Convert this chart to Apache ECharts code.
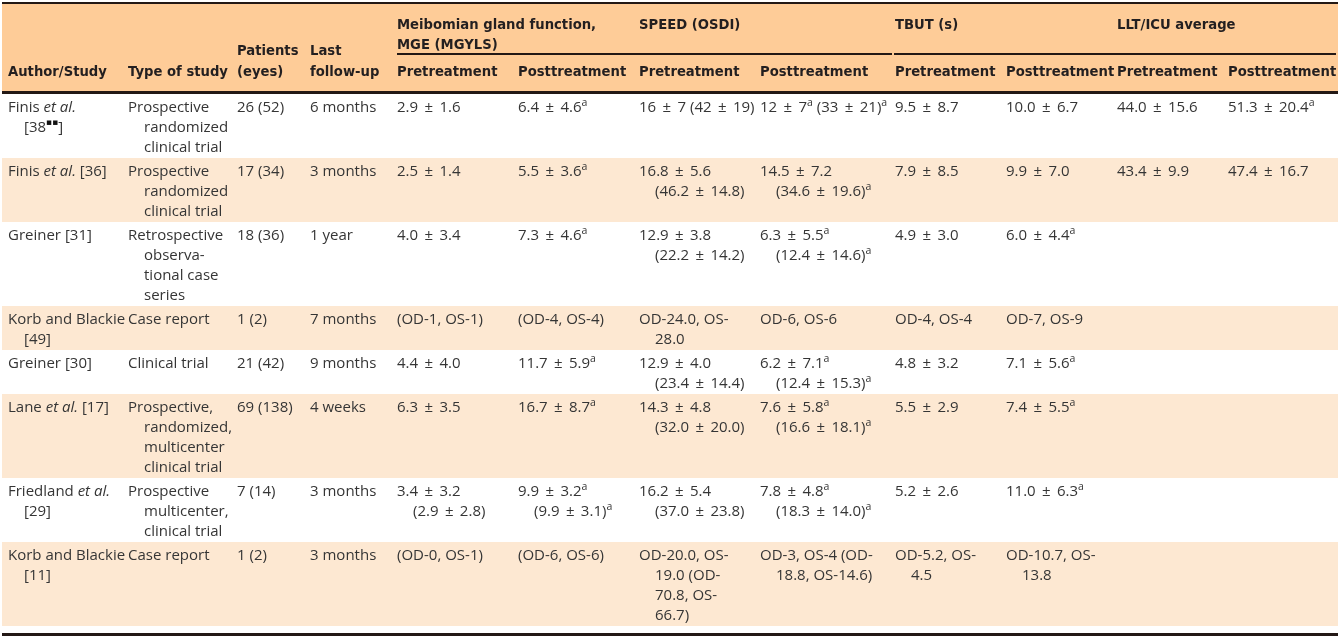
<!DOCTYPE html>
<html>
<head>
<meta charset="utf-8">
<script src="https://cdn.jsdelivr.net/npm/echarts@6/dist/echarts.min.js"></script>
<style>html,body{margin:0;padding:0;background:#fff;}#main{width:1340px;height:643px;}</style>
</head>
<body>
<div id="main"></div>
<script>
// ---- table content (markup: *italic*, ^a superscript, ^▪▪ superscript marks, \n line break) ----
const columnHeaders = ['Author/Study', 'Type of study', 'Patients\n(eyes)', 'Last\nfollow-up',
  'Pretreatment', 'Posttreatment', 'Pretreatment', 'Posttreatment',
  'Pretreatment', 'Posttreatment', 'Pretreatment', 'Posttreatment'];
const groupHeaders = ['Meibomian gland function,\nMGE (MGYLS)', 'SPEED (OSDI)', 'TBUT (s)', 'LLT/ICU average'];

const authors = ['Finis *et al.*\n[38^▪▪]', 'Finis *et al.* [36]', 'Greiner [31]', 'Korb and Blackie\n[49]',
  'Greiner [30]', 'Lane *et al.* [17]', 'Friedland *et al.*\n[29]', 'Korb and Blackie\n[11]'];
const studyTypes = ['Prospective\nrandomized\nclinical trial', 'Prospective\nrandomized\nclinical trial',
  'Retrospective\nobserva-\ntional case\nseries', 'Case report', 'Clinical trial',
  'Prospective,\nrandomized,\nmulticenter\nclinical trial', 'Prospective\nmulticenter,\nclinical trial', 'Case report'];
const patients = ['26 (52)', '17 (34)', '18 (36)', '1 (2)', '21 (42)', '69 (138)', '7 (14)', '1 (2)'];
const followUp = ['6 months', '3 months', '1 year', '7 months', '9 months', '4 weeks', '3 months', '3 months'];
const mgePre = ['2.9 ± 1.6', '2.5 ± 1.4', '4.0 ± 3.4', '(OD-1, OS-1)', '4.4 ± 4.0', '6.3 ± 3.5',
  '3.4 ± 3.2\n(2.9 ± 2.8)', '(OD-0, OS-1)'];
const mgePost = ['6.4 ± 4.6^a', '5.5 ± 3.6^a', '7.3 ± 4.6^a', '(OD-4, OS-4)', '11.7 ± 5.9^a', '16.7 ± 8.7^a',
  '9.9 ± 3.2^a\n(9.9 ± 3.1)^a', '(OD-6, OS-6)'];
const speedPre = ['16 ± 7 (42 ± 19)', '16.8 ± 5.6\n(46.2 ± 14.8)', '12.9 ± 3.8\n(22.2 ± 14.2)', 'OD-24.0, OS-\n28.0',
  '12.9 ± 4.0\n(23.4 ± 14.4)', '14.3 ± 4.8\n(32.0 ± 20.0)', '16.2 ± 5.4\n(37.0 ± 23.8)',
  'OD-20.0, OS-\n19.0 (OD-\n70.8, OS-\n66.7)'];
const speedPost = ['12 ± 7^a (33 ± 21)^a', '14.5 ± 7.2\n(34.6 ± 19.6)^a', '6.3 ± 5.5^a\n(12.4 ± 14.6)^a', 'OD-6, OS-6',
  '6.2 ± 7.1^a\n(12.4 ± 15.3)^a', '7.6 ± 5.8^a\n(16.6 ± 18.1)^a', '7.8 ± 4.8^a\n(18.3 ± 14.0)^a',
  'OD-3, OS-4 (OD-\n18.8, OS-14.6)'];
const tbutPre = ['9.5 ± 8.7', '7.9 ± 8.5', '4.9 ± 3.0', 'OD-4, OS-4', '4.8 ± 3.2', '5.5 ± 2.9', '5.2 ± 2.6', 'OD-5.2, OS-\n4.5'];
const tbutPost = ['10.0 ± 6.7', '9.9 ± 7.0', '6.0 ± 4.4^a', 'OD-7, OS-9', '7.1 ± 5.6^a', '7.4 ± 5.5^a', '11.0 ± 6.3^a',
  'OD-10.7, OS-\n13.8'];
const lltPre = ['44.0 ± 15.6', '43.4 ± 9.9', '', '', '', '', '', ''];
const lltPost = ['51.3 ± 20.4^a', '47.4 ± 16.7', '', '', '', '', '', ''];

// ---- layout ----
const columns = [authors, studyTypes, patients, followUp, mgePre, mgePost, speedPre, speedPost, tbutPre, tbutPost, lltPre, lltPost];
const colX = [8, 128, 237, 310, 397, 518, 639, 760, 895, 1006, 1117, 1228];
const groupCol = [4, 6, 8, 10];
const INDENT = 16, LINE = 20, PAD = 4;
const LEFT = 2, RIGHT = 1338;
const HEADER_BG = '#FECC98', ALT_BG = '#FDE8D2', RULE = '#231815';
const BODY_FONT = '"Open Sans", sans-serif', HEAD_FONT = '"DejaVu Sans", sans-serif';
const BODY_SIZE = 15, HEAD_SIZE = 13.2, BODY_COLOR = '#353535', HEAD_COLOR = '#231f20';

function toRich(s) {
  return s.replace(/ ± /g, '\u2009 ± \u2009')
    .replace(/\*([^*]+)\*/g, '{i|$1}').replace(/\^a/g, '{sup|a}').replace(/\^▪▪/g, '{sq|▪▪}');
}
const bodyRich = {
  i: { fontStyle: 'italic', fontFamily: BODY_FONT, fontSize: BODY_SIZE, fill: BODY_COLOR, lineHeight: LINE },
  sup: { fontFamily: BODY_FONT, fontSize: 10.5, fill: BODY_COLOR, lineHeight: 12, verticalAlign: 'top' },
  sq: { fontFamily: '"DejaVu Sans", sans-serif', fontSize: 9, fill: '#111', lineHeight: 12, verticalAlign: 'top' }
};

const elements = [];
function rect(x, y, w, h, fill) {
  elements.push({ type: 'rect', silent: true, shape: { x: x, y: y, width: w, height: h }, style: { fill: fill } });
}
function bodyText(str, x, y) {
  elements.push({ type: 'text', silent: true, style: {
    text: toRich(str), x: x, y: y, verticalAlign: 'middle', align: 'left',
    fontFamily: BODY_FONT, fontSize: BODY_SIZE, fill: BODY_COLOR, lineHeight: LINE, rich: bodyRich } });
}
function headText(str, x, y) {
  elements.push({ type: 'text', silent: true, style: {
    text: str, x: x, y: y, verticalAlign: 'middle', align: 'left',
    fontFamily: HEAD_FONT, fontWeight: 'bold', fontSize: HEAD_SIZE, fill: HEAD_COLOR } });
}

// header
rect(LEFT, 4, RIGHT - LEFT, 87, HEADER_BG);
rect(LEFT, 2, RIGHT - LEFT, 2, RULE);
rect(LEFT, 91, RIGHT - LEFT, 3, RULE);
columnHeaders.forEach(function (h, c) {
  const lines = h.split('\n');
  lines.forEach(function (ln, k) { headText(ln, colX[c], 72.5 - (lines.length - 1 - k) * 21); });
});
groupHeaders.forEach(function (g, k) {
  g.split('\n').forEach(function (ln, j) { headText(ln, colX[groupCol[k]], 25.5 + j * 20); });
});
rect(397, 53, 892 - 397, 2, RULE);
rect(894, 53, RIGHT - 2 - 894, 2, RULE);

// body rows
let rowTop = 94;
for (let r = 0; r < authors.length; r++) {
  const cellLines = columns.map(function (col) { return col[r] ? col[r].split('\n') : []; });
  const n = Math.max.apply(null, cellLines.map(function (l) { return l.length; }));
  const h = n * LINE + PAD;
  if (r % 2 === 1) rect(LEFT, rowTop, RIGHT - LEFT, h, ALT_BG);
  cellLines.forEach(function (lines, c) {
    lines.forEach(function (ln, k) { bodyText(ln, colX[c] + (k > 0 ? INDENT : 0), rowTop + 14 + k * LINE); });
  });
  rowTop += h;
}
rect(LEFT, rowTop + 7, RIGHT - LEFT, 3, RULE);

const chart = echarts.init(document.getElementById('main'), null, { renderer: 'canvas' });
chart.setOption({ backgroundColor: '#ffffff', animation: false, graphic: { elements: elements } });
</script>
</body>
</html>
